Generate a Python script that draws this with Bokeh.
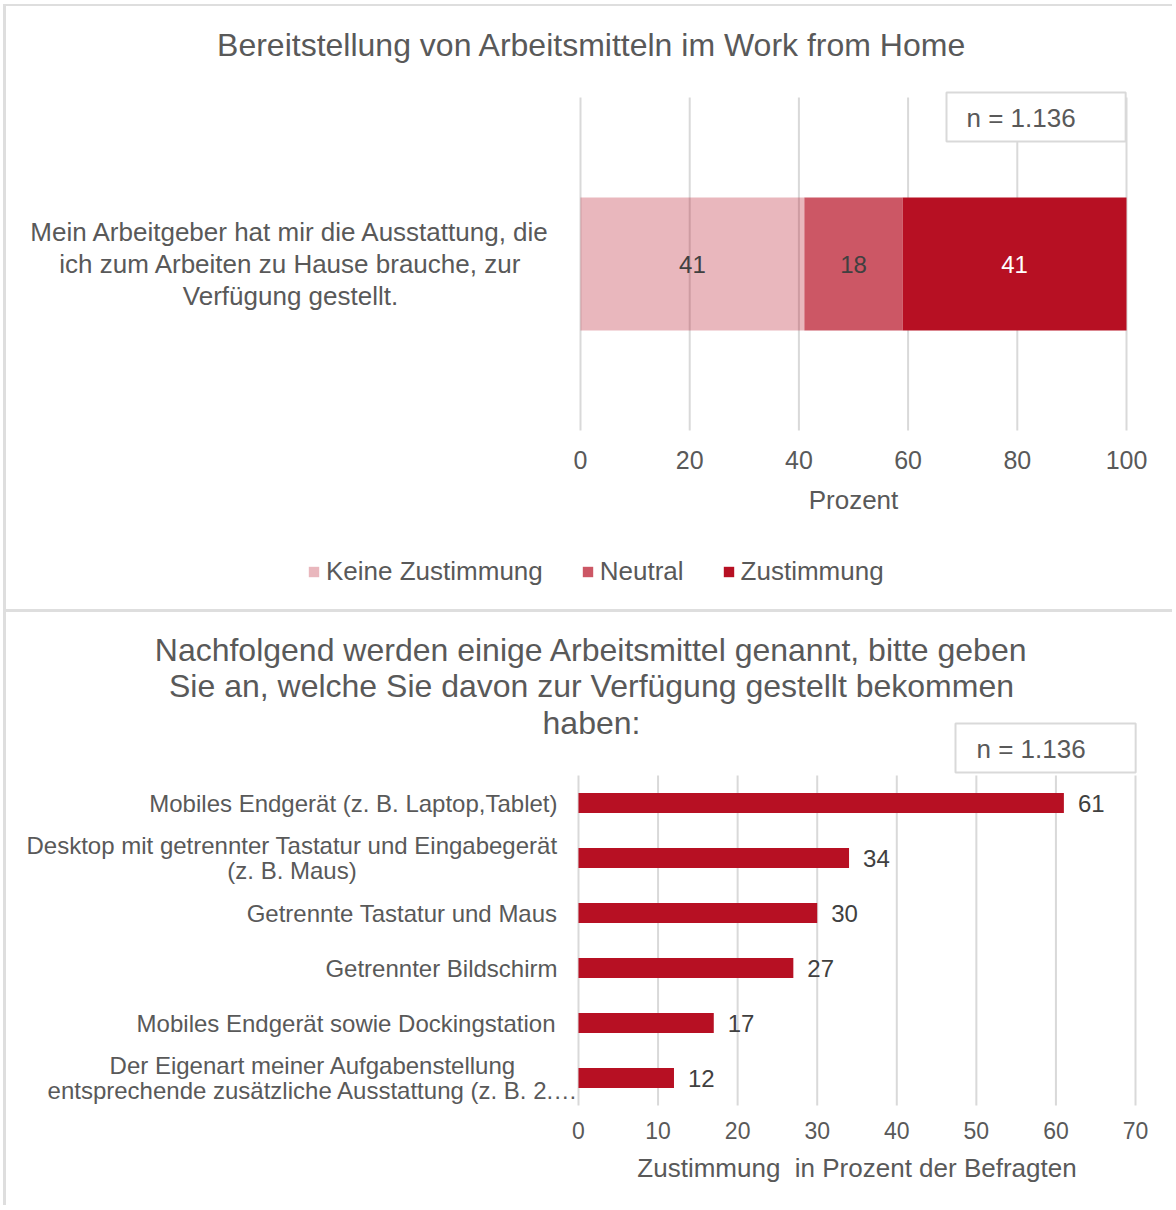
from bokeh.plotting import figure
from bokeh.models import Range1d, FixedTicker, Label, Legend, LegendItem, Div
from bokeh.layouts import column, row
from bokeh.embed import file_html
from bokeh.resources import INLINE

# ---------------- data ----------------
top_title = "Bereitstellung von Arbeitsmitteln im Work from Home"
top_question = ("Mein Arbeitgeber hat mir die Ausstattung, die\n"
                "ich zum Arbeiten zu Hause brauche, zur\n"
                "Verfügung gestellt.")
top_series = ["Keine Zustimmung", "Neutral", "Zustimmung"]
top_values = [41, 18, 41]
top_ticks = [0, 20, 40, 60, 80, 100]
top_axis_label = "Prozent"
n_text = "n = 1.136"

bottom_title = ("Nachfolgend werden einige Arbeitsmittel genannt, bitte geben\n"
                "Sie an, welche Sie davon zur Verfügung gestellt bekommen\n"
                "haben:")
bottom_items = [
    "Mobiles Endgerät (z. B. Laptop,Tablet)",
    "Desktop mit getrennter Tastatur und Eingabegerät\n(z. B. Maus)",
    "Getrennte Tastatur und Maus",
    "Getrennter Bildschirm",
    "Mobiles Endgerät sowie Dockingstation",
    "Der Eigenart meiner Aufgabenstellung\nentsprechende zusätzliche Ausstattung (z. B. 2.…",
]
bottom_values = [61, 34, 30, 27, 17, 12]
bottom_ticks = [0, 10, 20, 30, 40, 50, 60, 70]
bottom_axis_label = "Zustimmung\u00a0 in Prozent der Befragten"

# ---------------- styles ----------------
FONT = "Liberation Sans"
TXT = "#595959"
DARK_TXT = "#404040"
RED = "#B71023"
GRID = "#D9D9D9"
BORDER = "#DEDEDE"
seg_alpha = [0.3, 0.7, 1.0]
seg_text = [DARK_TXT, DARK_TXT, "white"]
label_right_offsets = [-21, -21, -21, -21, -23, 0]

W = 1166          # canvas width of each panel
H1, H2 = 603, 593
OX = 6            # page x of canvas left


def style_axis(ax, tick_size, label_size, tick_standoff, label_standoff):
    ax.axis_line_color = None
    ax.major_tick_line_color = None
    ax.minor_tick_line_color = None
    ax.major_tick_out = 0
    ax.major_tick_in = 0
    ax.major_label_standoff = tick_standoff
    ax.major_label_text_font = FONT
    ax.major_label_text_font_size = tick_size
    ax.major_label_text_color = TXT
    ax.axis_label_text_font = FONT
    ax.axis_label_text_font_size = label_size
    ax.axis_label_text_font_style = "normal"
    ax.axis_label_text_color = TXT
    ax.axis_label_standoff = label_standoff


# ---------------- top panel ----------------
# plot area in reference pixels: x 580..1126 (0..100), y 97..430
T_X0, T_X1, T_Y0, T_Y1, T_OY = 580, 1126, 97, 430, 6
sx1 = (T_X1 - T_X0) / 100.0
sy1 = float(T_Y1 - T_Y0)
yc = (T_Y0 + T_Y1) / 2.0 - T_OY          # canvas y of bar centre
x_start = -(T_X0 - OX) / sx1
x_end = 100 + (W - (T_X1 - OX)) / sx1

p1 = figure(width=W, height=H1, x_range=Range1d(x_start, x_end),
            y_range=Range1d(-(H1 - yc) / sy1, yc / sy1),
            output_backend="svg", toolbar_location=None,
            min_border_left=0, min_border_right=0, min_border_top=0, min_border_bottom=0)
p1.outline_line_color = None
p1.yaxis.visible = False
p1.grid.visible = False
p1.segment(x0=top_ticks, x1=top_ticks, y0=-0.5, y1=0.5, line_color=GRID, line_width=2,
           level="underlay")
p1.xaxis.fixed_location = -0.5
p1.xaxis.bounds = (top_ticks[0], top_ticks[-1])
p1.xaxis.ticker = FixedTicker(ticks=top_ticks)
p1.xaxis.axis_label = top_axis_label
style_axis(p1.xaxis, "25px", "26px", 20, 13)

items = []
left = 0
for name, v, a, tc in zip(top_series, top_values, seg_alpha, seg_text):
    r = p1.hbar(y=[0], left=[left], right=[left + v], height=0.4,
                fill_color=RED, fill_alpha=a, line_color=None)
    items.append(LegendItem(label=name, renderers=[r]))
    p1.add_layout(Label(x=left + v / 2, y=0, text=str(v), text_align="center",
                        text_baseline="middle", text_font=FONT, text_font_size="24px",
                        text_color=tc))
    left += v

p1.add_layout(Label(x=(290 - T_X0) / sx1, y=0, text=top_question, text_align="center",
                    text_baseline="middle", text_font=FONT, text_font_size="26px",
                    text_color=TXT, text_line_height=1.058))
p1.add_layout(Label(x=(591.5 - T_X0) / sx1, y=0.5 + (T_Y0 - 44) / sy1, text=top_title,
                    text_align="center", text_baseline="middle", text_font=FONT,
                    text_font_size="32px", text_color=TXT))
p1.add_layout(Label(x=(946 - T_X0) / sx1, y=0.5 - (141 - T_Y0) / sy1, text=n_text,
                    text_align="left", text_baseline="bottom", text_font=FONT,
                    text_font_size="26px", text_color=TXT,
                    border_line_color=GRID, border_line_width=2,
                    background_fill_color="white",
                    padding=dict(left=20, right=50, top=10, bottom=9)))

legend = Legend(items=items, orientation="horizontal", location=(301, 22),
                padding=0, margin=0, border_line_color=None, background_fill_alpha=0,
                spacing=38, label_standoff=6, glyph_width=13, glyph_height=13,
                label_height=24, label_text_font=FONT, label_text_font_size="26px",
                label_text_color=TXT)
p1.add_layout(legend)

# ---------------- bottom panel ----------------
# plot area in reference pixels: x 578..1135 (0..70), y 775..1105 (6 bands of 55px)
B_X0, B_X1, B_Y0, B_Y1, B_OY = 578, 1135, 775, 1105, 612
sx2 = (B_X1 - B_X0) / 70.0
sy2 = (B_Y1 - B_Y0) / 6.0
x2_start = -(B_X0 - OX) / sx2
x2_end = 70 + (W - (B_X1 - OX)) / sx2
y2_top = -0.5 - (B_Y0 - B_OY) / sy2
y2_bottom = 5.5 + (H2 - (B_Y1 - B_OY)) / sy2

p2 = figure(width=W, height=H2, x_range=Range1d(x2_start, x2_end),
            y_range=Range1d(y2_bottom, y2_top),
            output_backend="svg", toolbar_location=None,
            min_border_left=0, min_border_right=0, min_border_top=0, min_border_bottom=0)
p2.outline_line_color = None
p2.yaxis.visible = False
p2.grid.visible = False
p2.segment(x0=bottom_ticks, x1=bottom_ticks, y0=-0.5, y1=5.5, line_color=GRID,
           line_width=2, level="underlay")
p2.xaxis.fixed_location = 5.5
p2.xaxis.bounds = (bottom_ticks[0], bottom_ticks[-1])
p2.xaxis.ticker = FixedTicker(ticks=bottom_ticks)
p2.xaxis.axis_label = bottom_axis_label
style_axis(p2.xaxis, "23px", "26px", 16, 11)

ys = list(range(len(bottom_items)))
p2.hbar(y=ys, left=0, right=bottom_values, height=0.36, fill_color=RED, line_color=None)

for i, (name, v) in enumerate(zip(bottom_items, bottom_values)):
    p2.add_layout(Label(x=v, y=i, x_offset=14, text=str(v), text_align="left",
                        text_baseline="middle", text_font=FONT, text_font_size="24px",
                        text_color=DARK_TXT))
    p2.add_layout(Label(x=0, y=i, x_offset=label_right_offsets[i], text=name,
                        anchor="center_right", text_align="center", text_baseline="middle",
                        text_font=FONT, text_font_size="24px", text_color=TXT,
                        text_line_height=0.95))

p2.add_layout(Label(x=(591 - B_X0) / sx2, y=-0.5 - (B_Y0 - 686) / sy2, text=bottom_title,
                    text_align="center", text_baseline="middle", text_font=FONT,
                    text_font_size="32px", text_color=TXT, text_line_height=1.02))
p2.add_layout(Label(x=(955 - B_X0) / sx2, y=-0.5 - 3 / sy2, text=n_text,
                    text_align="left", text_baseline="bottom", text_font=FONT,
                    text_font_size="26px", text_color=TXT,
                    border_line_color=GRID, border_line_width=2,
                    background_fill_color="white",
                    padding=dict(left=21, right=50, top=10, bottom=9)))

# ---------------- layout ----------------
def bar(w, h, color):
    return Div(width=w, height=h, margin=0, styles={"background-color": color})

left_col = column(bar(3, 4, "white"), bar(3, 1201, BORDER), spacing=0)
main_col = column(bar(W, 4, "white"), bar(W, 2, BORDER), p1, bar(W, 3, BORDER), p2, spacing=0)
layout = row(bar(3, 1205, "white"), left_col, main_col, spacing=0)

open("out.html", "w").write(file_html(layout, INLINE))
